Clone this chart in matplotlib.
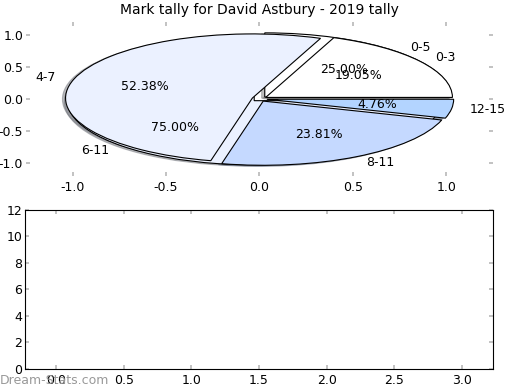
import numpy as np
import matplotlib
matplotlib.use('Agg')
import matplotlib.pyplot as plt

# 2019 tally, two groupings of the same marks
labels_wide = ['0-5', '6-11']
share_wide = [25.0, 75.0]
colors_wide = ['#ffffff', '#ebf1ff']

labels_fine = ['0-3', '4-7', '8-11', '12-15']
share_fine = [19.05, 52.38, 23.81, 4.76]
colors_fine = ['#ffffff', '#ebf1ff', '#c5d9ff', '#b3d4ff']

title = 'Mark tally for David Astbury - 2019 tally'

plt.rcParams['font.family'] = 'DejaVu Sans'
plt.rcParams['font.size'] = 9
plt.rcParams['axes.unicode_minus'] = False

fig = plt.figure(figsize=(5.2, 3.9), dpi=100)
ax1 = fig.add_axes([0.05, 0.549, 0.898, 0.395])
ax2 = fig.add_axes([0.048, 0.054, 0.9, 0.408])

wp = dict(edgecolor='black', linewidth=0.8)
shad = dict(ox=-0.012, oy=-0.012, shade=0.5)
ax1.pie(share_wide, labels=labels_wide, colors=colors_wide, autopct='%1.2f%%',
        explode=[0.04] * len(share_wide), shadow=shad, startangle=0,
        frame=True, wedgeprops=wp, textprops=dict(fontsize=9))
ax1.pie(share_fine, labels=labels_fine, colors=colors_fine, autopct='%1.2f%%',
        explode=[0.04] * len(share_fine), shadow=shad, startangle=0,
        frame=True, wedgeprops=wp, textprops=dict(fontsize=9))
ax1.set_aspect('auto')
ax1.set_xlim(-1.25, 1.25)
ax1.set_ylim(-1.2, 1.2)
ax1.set_xticks([-1.0, -0.5, 0.0, 0.5, 1.0])
ax1.set_yticks([-1.0, -0.5, 0.0, 0.5, 1.0])
for s in ax1.spines.values():
    s.set_visible(False)
ax1.set_title(title, fontsize=10)

ax2.set_xlim(-0.23, 3.23)
ax2.set_ylim(0, 12)
ax2.set_xticks(np.arange(0, 3.5, 0.5))
ax2.set_yticks(np.arange(0, 13, 2))

for ax in (ax1, ax2):
    ax.tick_params(direction='in', length=3, width=1.2, color='#b8b8b8',
                   top=True, right=True, labelsize=9)
    ax.tick_params(axis='y', pad=2)

fig.text(0.0, 0.025, 'Dream-Stats.com', color='#999999', fontsize=9, va='center')

fig.savefig('out.png', dpi=100)
